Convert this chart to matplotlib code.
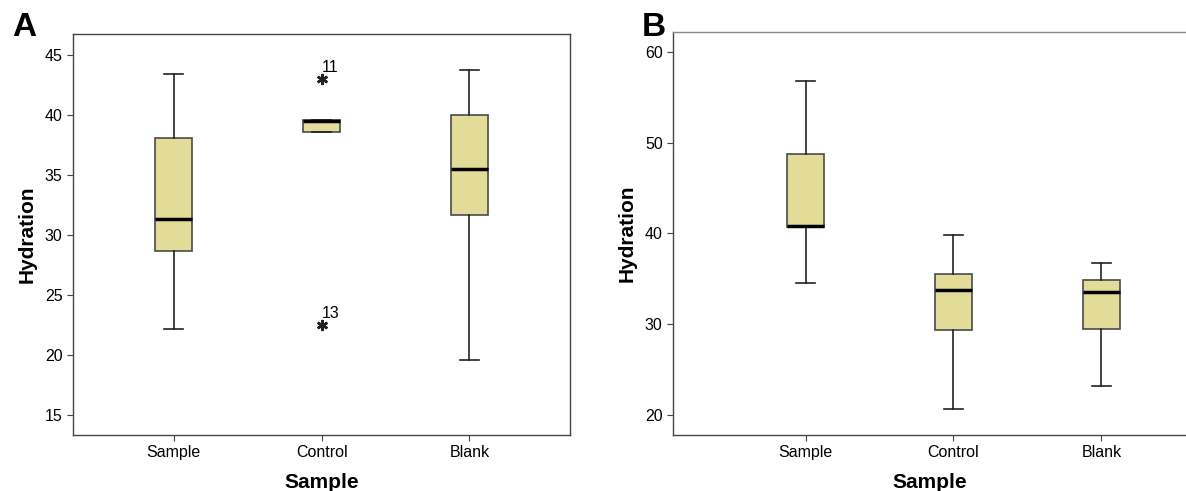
import matplotlib
matplotlib.use("Agg")
import matplotlib.pyplot as plt

plt.rcParams['font.family'] = ['Liberation Sans', 'DejaVu Sans']

categories = ["Sample", "Control", "Blank"]

# Panel A: whisker low, Q1, median, Q3, whisker high
a_whislo = [22.2, 38.6, 19.6]
a_q1 = [28.7, 38.6, 31.7]
a_med = [31.3, 39.5, 35.5]
a_q3 = [38.1, 39.6, 40.0]
a_whishi = [43.4, 39.6, 43.7]
a_outliers = [[], [43.0, 22.5], []]
a_outlier_ids = [[], ["11", "13"], []]

# Panel B
b_whislo = [34.5, 20.7, 23.2]
b_q1 = [40.7, 29.4, 29.5]
b_med = [40.8, 33.8, 33.6]
b_q3 = [48.7, 35.5, 34.9]
b_whishi = [56.8, 39.8, 36.8]

box_color = '#e2dc98'
edge_color = '#4a4a4a'


def make_stats(lo, q1, med, q3, hi, fliers=None):
    stats = []
    for i in range(len(lo)):
        stats.append({
            'whislo': lo[i], 'q1': q1[i], 'med': med[i],
            'q3': q3[i], 'whishi': hi[i],
            'fliers': fliers[i] if fliers else [],
        })
    return stats


def draw_panel(ax, stats):
    ax.bxp(stats, positions=[1, 2, 3], widths=0.25, patch_artist=True,
           showfliers=False, capwidths=0.13,
           boxprops=dict(facecolor=box_color, edgecolor=edge_color, linewidth=1.2),
           medianprops=dict(color='black', linewidth=2.5),
           whiskerprops=dict(color='#222222', linewidth=1.2),
           capprops=dict(color='#222222', linewidth=1.2))
    ax.set_xticks([1, 2, 3])
    ax.set_xticklabels(categories)
    ax.tick_params(axis='both', labelsize=11.5, length=4, color='#444444')
    ax.set_xlabel("Sample", fontsize=15, fontweight='bold', labelpad=9)
    ax.set_ylabel("Hydration", fontsize=15, fontweight='bold', labelpad=6)
    for s in ax.spines.values():
        s.set_color('#444444')
        s.set_linewidth(1.0)


fig = plt.figure(figsize=(11.86, 4.91), dpi=100)

axA = fig.add_axes([0.0616, 0.114, 0.419, 0.817])
draw_panel(axA, make_stats(a_whislo, a_q1, a_med, a_q3, a_whishi, a_outliers))
for i, (vals, ids) in enumerate(zip(a_outliers, a_outlier_ids)):
    for v, lab in zip(vals, ids):
        axA.plot(i + 1, v, marker=(6, 2, 0), color='#222222', markersize=8,
                 markeredgewidth=1.8)
        axA.annotate(lab, (i + 1, v), xytext=(0, 3), textcoords='offset points',
                     fontsize=11.5, ha='left', va='bottom')
axA.set_xlim(0.318, 3.68)
axA.set_ylim(13.33, 46.75)
axA.set_yticks([15, 20, 25, 30, 35, 40, 45])

axB = fig.add_axes([0.5675, 0.114, 0.4335, 0.821])
draw_panel(axB, make_stats(b_whislo, b_q1, b_med, b_q3, b_whishi))
axB.set_xlim(0.104, 3.58)
axB.set_ylim(17.8, 62.2)
axB.set_yticks([20, 30, 40, 50, 60])
axB.spines['top'].set_color('#8a8a8a')
axB.spines['right'].set_visible(False)

fig.text(0.010, 0.975, "A", fontsize=24, fontweight='bold', va='top')
fig.text(0.541, 0.975, "B", fontsize=24, fontweight='bold', va='top')

fig.savefig("out.png", dpi=100)
